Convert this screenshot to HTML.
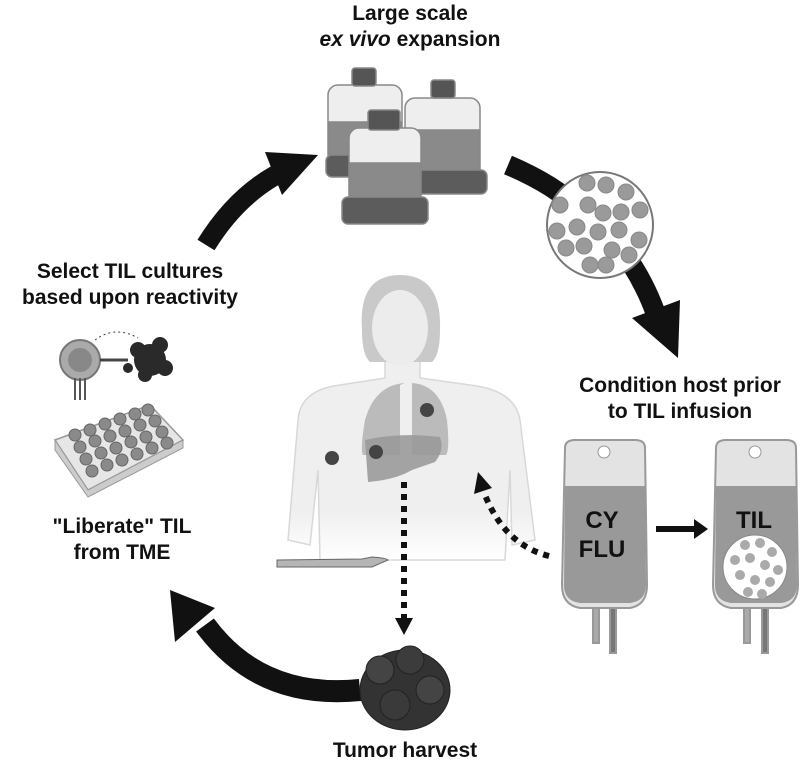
<!DOCTYPE html>
<html><head><meta charset="utf-8"><style>
html,body{margin:0;padding:0;background:#fff;}
svg{display:block;font-family:"Liberation Sans",Arial,sans-serif;}
.t{font-weight:bold;font-size:21px;fill:#111;text-anchor:middle;}
</style></head><body>
<svg width="800" height="768" viewBox="0 0 800 768" xmlns="http://www.w3.org/2000/svg">
<defs>
<linearGradient id="fade" x1="0" y1="0" x2="0" y2="1"><stop offset="0.75" stop-color="#efefef"/><stop offset="1" stop-color="#fff"/></linearGradient>
</defs>
<!-- titles -->
<text class="t" x="410" y="20">Large scale</text>
<text class="t" x="410" y="46"><tspan font-style="italic">ex vivo</tspan> expansion</text>
<text class="t" x="130" y="278">Select TIL cultures</text>
<text class="t" x="130" y="304">based upon reactivity</text>
<text class="t" x="122" y="533">"Liberate" TIL</text>
<text class="t" x="122" y="559">from TME</text>
<text class="t" x="680" y="392">Condition host prior</text>
<text class="t" x="680" y="418">to TIL infusion</text>
<text class="t" x="405" y="757">Tumor harvest</text>

<!-- big arrows -->
<path d="M206,245 Q240,190 290,168" stroke="#111" stroke-width="20" fill="none"/>
<path d="M265,152 L318,155 L282,195 Z" fill="#111"/>
<path d="M508,165 Q555,185 580,210" stroke="#111" stroke-width="20" fill="none"/>
<path d="M632,265 Q648,290 658,320" stroke="#111" stroke-width="20" fill="none"/>
<path d="M632,318 L678,358 L680,300 Z" fill="#111"/>
<path d="M360,690 Q260,700 205,625" stroke="#111" stroke-width="22" fill="none"/>
<path d="M170,590 L175,642 L215,608 Z" fill="#111"/>

<!-- bottles -->
<g stroke="#888" stroke-width="1.5">
<rect x="405" y="98" width="75" height="82" rx="10" fill="#eeeeee"/>
<rect x="406" y="130" width="73" height="50" fill="#8a8a8a"/>
<rect x="397" y="170" width="90" height="24" rx="6" fill="#5c5c5c"/>
<rect x="431" y="80" width="24" height="18" rx="3" fill="#555"/>
<rect x="328" y="85" width="74" height="80" rx="10" fill="#eeeeee"/>
<rect x="329" y="122" width="72" height="43" fill="#8a8a8a"/>
<rect x="326" y="155" width="80" height="22" rx="6" fill="#5c5c5c"/>
<rect x="352" y="68" width="24" height="18" rx="3" fill="#555"/>
<rect x="349" y="128" width="72" height="78" rx="10" fill="#eeeeee"/>
<rect x="350" y="163" width="70" height="43" fill="#8a8a8a"/>
<rect x="342" y="197" width="86" height="27" rx="6" fill="#5c5c5c"/>
<rect x="368" y="110" width="32" height="20" rx="3" fill="#555"/>
</g>
<!-- cell circle -->
<circle cx="600" cy="225" r="53" fill="#fff" stroke="#777" stroke-width="2"/>
<g fill="#9a9a9a" stroke="#888">
<circle cx="587" cy="183" r="8"/><circle cx="606" cy="185" r="8"/><circle cx="626" cy="192" r="8"/>
<circle cx="560" cy="205" r="8"/><circle cx="588" cy="205" r="8"/><circle cx="603" cy="213" r="8"/><circle cx="621" cy="212" r="8"/><circle cx="640" cy="210" r="8"/>
<circle cx="557" cy="231" r="8"/><circle cx="577" cy="227" r="8"/><circle cx="598" cy="232" r="8"/><circle cx="619" cy="230" r="8"/><circle cx="639" cy="240" r="8"/>
<circle cx="566" cy="248" r="8"/><circle cx="584" cy="246" r="8"/><circle cx="612" cy="250" r="8"/><circle cx="629" cy="255" r="8"/>
<circle cx="590" cy="265" r="8"/><circle cx="606" cy="265" r="8"/>
</g>

<!-- woman -->
<path d="M340,385 Q300,390 298,420 L288,540 L310,545 L318,470 L320,560 L505,560 L510,470 L512,545 L535,540 L520,420 Q515,390 470,385 L420,378 L420,355 L385,355 L385,378 Z" fill="url(#fade)" stroke="#d8d8d8" stroke-width="1.5"/>
<path d="M362,330 Q358,275 400,275 Q442,275 440,330 Q440,355 432,362 L370,362 Q362,355 362,330Z" fill="#c9c9c9"/>
<ellipse cx="400" cy="328" rx="28" ry="38" fill="#ececec"/>
<path d="M405,383 Q375,385 365,420 Q360,450 363,455 L400,455 L400,385 Z" fill="#b5b5b5" opacity="0.9"/>
<path d="M412,383 Q440,385 447,420 Q450,450 446,455 L412,455 Z" fill="#b5b5b5" opacity="0.9"/>
<path d="M365,440 Q400,432 440,437 Q445,450 435,462 L412,470 Q395,480 368,482 Z" fill="#9a9a9a" opacity="0.9"/>
<circle cx="332" cy="458" r="7" fill="#444"/>
<circle cx="376" cy="452" r="7" fill="#444"/>
<circle cx="427" cy="410" r="7" fill="#444"/>
<!-- scalpel -->
<path d="M277,560 L362,559 L372,557 Q386,558 388,560 L372,567 L277,567 Z" fill="#b5b5b5" stroke="#666"/>

<!-- dotted arrows -->
<line x1="404" y1="482" x2="404" y2="620" stroke="#111" stroke-width="6" stroke-dasharray="6,6"/>
<path d="M395,618 L413,618 L404,635 Z" fill="#111"/>
<path d="M549,556 Q505,545 485,495" stroke="#111" stroke-width="6" stroke-dasharray="6,6" fill="none"/>
<path d="M474,494 L478,472 L492,488 Z" fill="#111"/>

<!-- tumor -->
<g fill="#333" stroke="#222">
<ellipse cx="405" cy="690" rx="45" ry="40"/>
<circle cx="380" cy="670" r="14" fill="#444"/><circle cx="410" cy="660" r="14" fill="#3c3c3c"/>
<circle cx="430" cy="690" r="14" fill="#444"/><circle cx="395" cy="705" r="15" fill="#3a3a3a"/>
</g>

<!-- cell + tumor small -->
<circle cx="80" cy="360" r="20" fill="#aaa" stroke="#777" stroke-width="2"/>
<circle cx="80" cy="360" r="12" fill="#888"/>
<line x1="100" y1="360" x2="128" y2="360" stroke="#444" stroke-width="3"/>
<g stroke="#555" stroke-width="2"><line x1="75" y1="378" x2="75" y2="400"/><line x1="80" y1="378" x2="80" y2="400"/><line x1="85" y1="378" x2="85" y2="400"/></g>
<path d="M95,340 Q115,325 138,338" stroke="#444" fill="none" stroke-dasharray="2,3"/>
<g fill="#2a2a2a"><circle cx="150" cy="360" r="16"/><circle cx="138" cy="350" r="8"/><circle cx="160" cy="345" r="8"/><circle cx="165" cy="368" r="8"/><circle cx="145" cy="375" r="7"/><circle cx="128" cy="368" r="5"/></g>

<!-- well plate -->
<path d="M55,440 L150,405 L183,440 L88,490 Z" fill="#e6e6e6" stroke="#999" stroke-width="1.5"/>
<path d="M55,440 L55,450 L88,497 L183,448 L183,440 L88,490 Z" fill="#ccc" stroke="#999"/>
<g fill="#8a8a8a" stroke="#666">
<circle cx="75" cy="435" r="6"/><circle cx="90" cy="430" r="6"/><circle cx="105" cy="424" r="6"/><circle cx="120" cy="419" r="6"/><circle cx="135" cy="414" r="6"/><circle cx="148" cy="410" r="6"/>
<circle cx="80" cy="447" r="6"/><circle cx="95" cy="441" r="6"/><circle cx="110" cy="436" r="6"/><circle cx="125" cy="431" r="6"/><circle cx="140" cy="425" r="6"/><circle cx="155" cy="421" r="6"/>
<circle cx="86" cy="459" r="6"/><circle cx="101" cy="453" r="6"/><circle cx="116" cy="448" r="6"/><circle cx="131" cy="442" r="6"/><circle cx="146" cy="437" r="6"/><circle cx="162" cy="432" r="6"/>
<circle cx="92" cy="471" r="6"/><circle cx="107" cy="465" r="6"/><circle cx="122" cy="460" r="6"/><circle cx="137" cy="454" r="6"/><circle cx="152" cy="448" r="6"/><circle cx="167" cy="443" r="6"/>
</g>

<!-- bags -->
<g stroke="#999" stroke-width="2">
<path d="M565,448 Q565,440 575,440 L635,440 Q645,440 645,448 L647,585 Q647,605 630,608 L580,608 Q562,605 562,585 Z" fill="#e3e3e3"/>
<path d="M566,487 L644,487 L645,585 Q645,600 630,602 L580,602 Q565,600 565,585 Z" fill="#999"/>
<rect x="593" y="608" width="6" height="35" fill="#aaa"/><rect x="610" y="608" width="6" height="45" fill="#777"/>
<path d="M716,448 Q716,440 726,440 L786,440 Q796,440 796,448 L798,585 Q798,605 781,608 L731,608 Q713,605 713,585 Z" fill="#e3e3e3"/>
<path d="M717,487 L795,487 L796,585 Q796,600 781,602 L731,602 Q716,600 716,585 Z" fill="#999"/>
<rect x="744" y="608" width="6" height="35" fill="#aaa"/><rect x="762" y="608" width="6" height="45" fill="#777"/>
</g>
<circle cx="604" cy="452" r="6" fill="#fff" stroke="#999"/>
<circle cx="755" cy="452" r="6" fill="#fff" stroke="#999"/>
<text x="602" y="528" font-size="24" font-weight="bold" text-anchor="middle" fill="#111">CY</text>
<text x="602" y="557" font-size="24" font-weight="bold" text-anchor="middle" fill="#111">FLU</text>
<text x="754" y="528" font-size="24" font-weight="bold" text-anchor="middle" fill="#111">TIL</text>
<circle cx="755" cy="567" r="32" fill="#fff" stroke="#888"/>
<g fill="#aaa"><circle cx="745" cy="545" r="5"/><circle cx="760" cy="543" r="5"/><circle cx="772" cy="552" r="5"/><circle cx="735" cy="560" r="5"/><circle cx="750" cy="558" r="5"/><circle cx="765" cy="565" r="5"/><circle cx="778" cy="570" r="5"/><circle cx="740" cy="575" r="5"/><circle cx="755" cy="580" r="5"/><circle cx="770" cy="582" r="5"/><circle cx="748" cy="592" r="5"/><circle cx="762" cy="594" r="5"/></g>
<path d="M656,529 L696,529" stroke="#111" stroke-width="6"/>
<path d="M694,519 L708,529 L694,539 Z" fill="#111"/>
</svg>
</body></html>
